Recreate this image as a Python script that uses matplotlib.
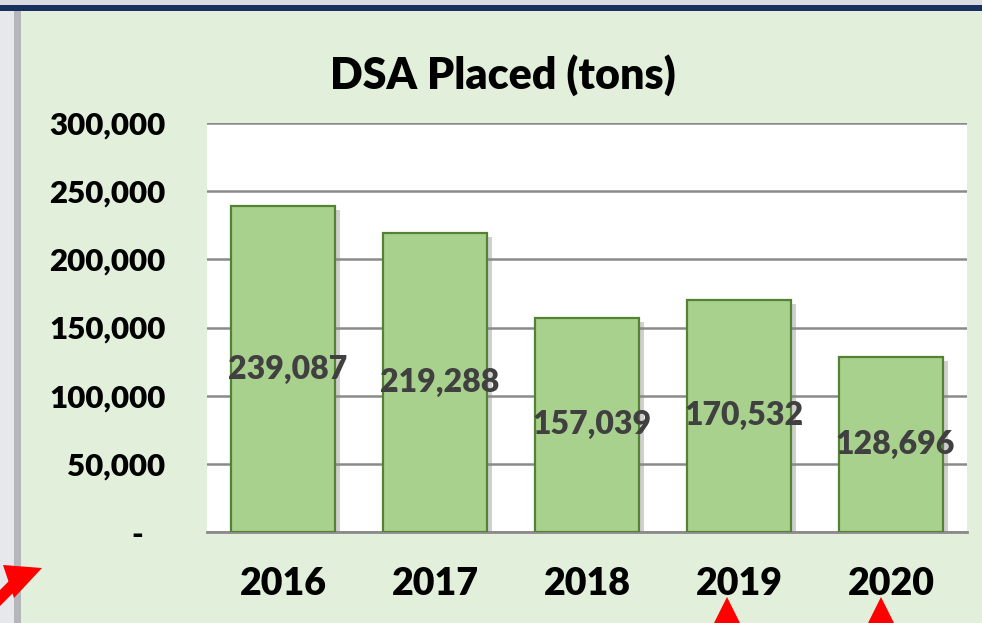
import matplotlib
matplotlib.use("Agg")
import matplotlib.pyplot as plt
import matplotlib.patheffects as pe
from matplotlib.patches import Rectangle, Polygon
from matplotlib.ticker import FuncFormatter

years = ["2016", "2017", "2018", "2019", "2020"]
tons = [239087, 219288, 157039, 170532, 128696]
title = "DSA Placed (tons)"
yticks = [0, 50000, 100000, 150000, 200000, 250000, 300000]

W, H = 982, 623
plt.rcParams['font.family'] = ['Lato', 'DejaVu Sans']
WEIGHT = 'heavy'
fig = plt.figure(figsize=(W / 100, H / 100), dpi=100)
fig.patch.set_facecolor('#e2efda')

def fx(px):
    return px / W

def fy(py):
    return 1 - py / H

# frame decorations (screenshot borders)
fig.patches.append(Rectangle((0, 0), fx(14), 1, transform=fig.transFigure,
                             facecolor='#e6e8ec', edgecolor='none', zorder=0))
fig.patches.append(Rectangle((fx(14), 0), fx(7), 1, transform=fig.transFigure,
                             facecolor='#b4b6bb', edgecolor='none', zorder=0))
fig.patches.append(Rectangle((0, fy(5)), 1, 5 / H, transform=fig.transFigure,
                             facecolor='#d9dbe0', edgecolor='none', zorder=0))
fig.patches.append(Rectangle((0, fy(11)), 1, 6 / H, transform=fig.transFigure,
                             facecolor='#17305e', edgecolor='none', zorder=0))

ax = fig.add_axes([fx(207), fy(532), fx(967) - fx(207), fy(123) - fy(532)])
ax.set_facecolor('white')
x = list(range(len(years)))
bars = ax.bar(x, tons, width=0.68, color='#a9d18e', edgecolor='#548235',
              linewidth=1.6, zorder=3)
for b in bars:
    b.set_path_effects([pe.SimplePatchShadow(offset=(4, -3), shadow_rgbFace='#888888', alpha=0.4),
                        pe.Normal()])

ax.set_xlim(-0.5, len(years) - 0.5)
ax.set_ylim(0, 300000)
ax.set_yticks(yticks)
ax.yaxis.set_major_formatter(FuncFormatter(lambda v, p: '-   ' if v == 0 else f"{int(v):,}"))
ax.set_xticks(x)
ax.set_xticklabels(years)
ax.grid(axis='y', color='#8a8a8a', linewidth=1.8, zorder=0)
ax.set_axisbelow(True)
for s in ['top', 'right', 'left']:
    ax.spines[s].set_visible(False)
ax.spines['bottom'].set_color('#8a8a8a')
ax.spines['bottom'].set_linewidth(2)
ax.tick_params(axis='y', length=0, pad=30, labelsize=22.5)
ax.tick_params(axis='x', length=0, pad=25, labelsize=27)
for lab in ax.get_yticklabels() + ax.get_xticklabels():
    lab.set_fontweight(WEIGHT)
    lab.set_color('black')

for i, v in enumerate(tons):
    ax.text(i + 0.03, v / 2, f"{v:,}", ha='center', va='center', fontsize=23,
            fontweight=WEIGHT, color='#404040', zorder=5)

fig.text(fx(503), fy(75), title, ha='center', va='center', fontsize=31,
         fontweight=WEIGHT, color='black')

# red arrow annotations
red = '#ff0000'
def arrow_poly(pts):
    fig.patches.append(Polygon([(fx(a), fy(b)) for a, b in pts], closed=True,
                               transform=fig.transFigure, facecolor=red,
                               edgecolor='none', zorder=10))

arrow_poly([(42, 568), (3, 565), (14, 598)])
arrow_poly([(0, 590), (10, 580), (18, 588), (0, 606)])
for tipx in [727, 881]:
    arrow_poly([(tipx, 597), (tipx - 14, 625), (tipx + 14, 625)])

fig.savefig("out.png", dpi=100, facecolor=fig.get_facecolor())
